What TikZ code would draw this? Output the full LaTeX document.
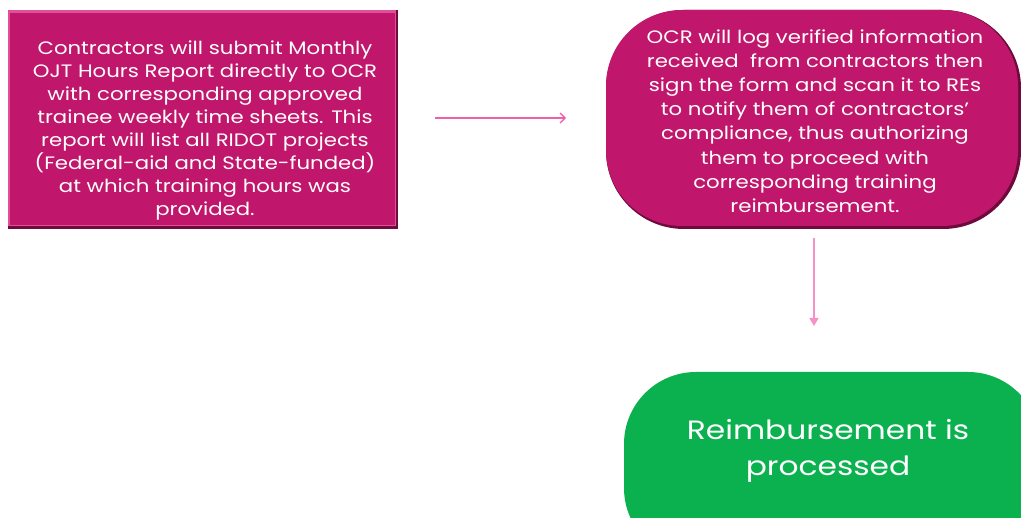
\documentclass[tikz,border=0pt]{standalone}
\usepackage{fontspec}
\setmainfont{Poppins}[FakeStretch=1.18]
\usetikzlibrary{arrows.meta}
\definecolor{magbox}{HTML}{C0176C}
\definecolor{magedge}{HTML}{6E0B3C}
\definecolor{maglight}{HTML}{E0509A}
\definecolor{greenbox}{HTML}{0BB14F}
\definecolor{arrowpink}{HTML}{F060A8}
\definecolor{arrowpink2}{HTML}{F590C8}
\tikzset{
  x=1pt,y=-1pt,
  txt/.style={text=white, align=center, font=\fontsize{18}{23}\selectfont},
  txtb/.style={text=white, align=center, font=\fontsize{18}{24.2}\selectfont},
  bigtxt/.style={text=white, align=center, font=\fontsize{26.5}{36}\selectfont},
}
\begin{document}
\begin{tikzpicture}
\useasboundingbox (0,0) rectangle (1021,518);
\clip (0,0) rectangle (1021,518);
% left box
\fill[magedge] (8,10) rectangle (398,229);
\fill[maglight] (8,10) rectangle (396,226);
\fill[magbox] (10,13) rectangle (395,225);
\node[txt] (a) at (205,130) {Contractors will submit Monthly\\OJT Hours Report directly to OCR\\with corresponding approved\\trainee weekly time sheets. This\\report will list all RIDOT projects\\(Federal-aid and State-funded)\\at which training hours was\\provided.};
% right pill
\fill[magedge, rounded corners=78pt] (606,10) rectangle (1021,229);
\fill[magbox, rounded corners=76pt] (606,10) rectangle (1018,226);
\node[txtb] (b) at (815,121) {OCR will log verified information\\received\ \ from contractors then\\sign the form and scan it to REs\\to notify them of contractors’\\compliance, thus authorizing\\them to proceed with\\corresponding training\\reimbursement.};
% green pill
\fill[greenbox, rounded corners=72pt] (624,372) rectangle (1040,560);
\node[bigtxt] (c) at (828,451) {Reimbursement is\\processed};
% arrows
\coordinate (a1) at (435,118);
\coordinate (a2) at (566,118);
\draw[arrowpink, line width=1.3pt, -{Straight Barb[length=5pt,width=10pt]}] (a1) -- (a2);
\coordinate (b1) at (814,238);
\coordinate (b2) at (814,326);
\draw[arrowpink2, line width=1.3pt, -{Triangle[length=8pt,width=9pt]}] (b1) -- (b2);
\end{tikzpicture}
\end{document}
